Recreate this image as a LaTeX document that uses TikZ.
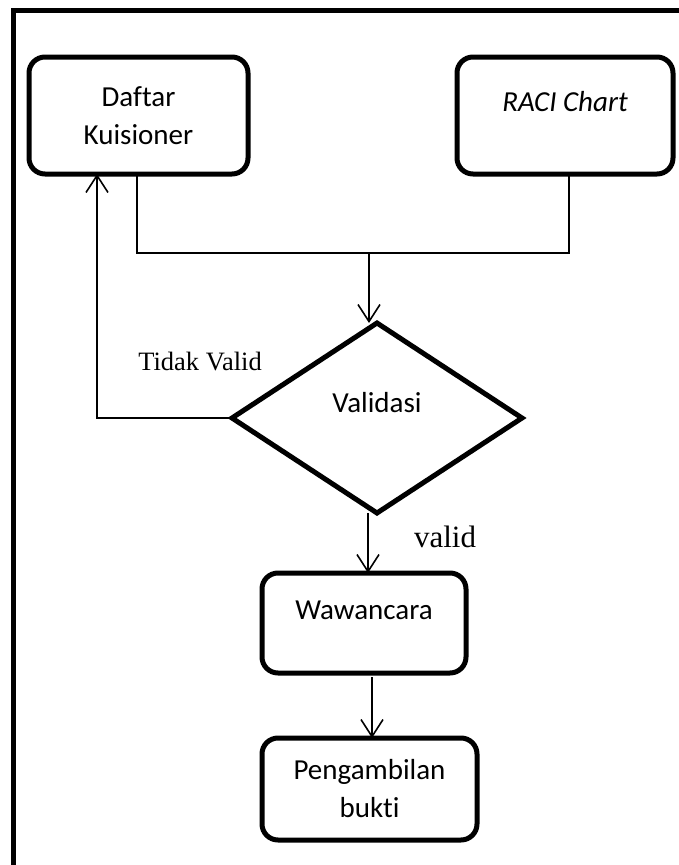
\documentclass[tikz,border=0pt]{standalone}
\usepackage{fontspec}
\setmainfont{Liberation Serif}
\newfontfamily\boxfont[Ligatures=NoCommon]{Carlito}
\usetikzlibrary{arrows.meta,shapes.geometric}
% raise a single line of text above the centre of its node
\newcommand\liftup[2]{\raisebox{#1}[0pt][0pt]{#2}}
\begin{document}
\begin{tikzpicture}[x=1pt,y=-1pt,
  stepbox/.style={draw,line width=5pt,rounded corners=16pt,inner sep=0pt,outer sep=0pt,
    align=center,font=\boxfont\fontsize{29}{38}\selectfont},
  decision/.style={draw,diamond,line width=5pt,inner sep=0pt,outer sep=0pt,
    minimum width=290pt,minimum height=190pt,font=\boxfont\fontsize{29}{37}\selectfont},
  link/.style={line width=1.6pt},
  arr/.style={link,-{Straight Barb[length=17pt,width=22pt,line width=1.6pt]}},
  note/.style={inner sep=0pt,font=\fontsize{26.5}{30}\selectfont},
]
\useasboundingbox (0,0) rectangle (678,865);
\fill[white] (0,0) rectangle (678,865);
% outer frame, running past the right and bottom edges
\draw[line width=5pt] (13.5,900) -- (13.5,10.5) -- (720,10.5);

% boxes
\node[stepbox,minimum width=219pt,minimum height=117pt] (dk) at (138.5,115.5) {Daftar\\Kuisioner};
\node[stepbox,minimum width=216pt,minimum height=117pt] (rc) at (565,115.5) {\liftup{4pt}{\itshape RACI Chart}};
\node[decision] (dv) at (377,418) {\liftup{5.5pt}{Validasi}};
\node[stepbox,minimum width=204pt,minimum height=100pt] (ww) at (364,623) {\liftup{3.5pt}{Wawancara}};
\node[stepbox,minimum width=215pt,minimum height=102pt] (pb) at (369.5,789) {Pengambilan\\bukti};

% labels
\node[note] (tv) at (200,362) {Tidak Valid};
\node[note,font=\fontsize{31}{34}\selectfont] (vl) at (445,537) {valid};

% merge of the two inputs
\coordinate (dkdrop) at (137,253);
\coordinate (rcdrop) at (569,253);
\coordinate (j) at (369,253);
\draw[link] (dkdrop |- dk.south) -- (dkdrop) -- (rcdrop) -- (rcdrop |- rc.south);
\draw[arr] (j) -- (j |- dv.north);

% rejected: back to the questionnaire
\coordinate (back) at (97,418);
\draw[arr] (dv.west) -- (back) -- (back |- dk.south);

% accepted: on to the interview and evidence
\coordinate (vx) at (368,0);
\draw[arr] (vx |- dv.south) -- (vx |- ww.north);
\coordinate (wx) at (372,0);
\draw[arr] ([yshift=-4pt]wx |- ww.south) -- (wx |- pb.north);
\end{tikzpicture}
\end{document}
